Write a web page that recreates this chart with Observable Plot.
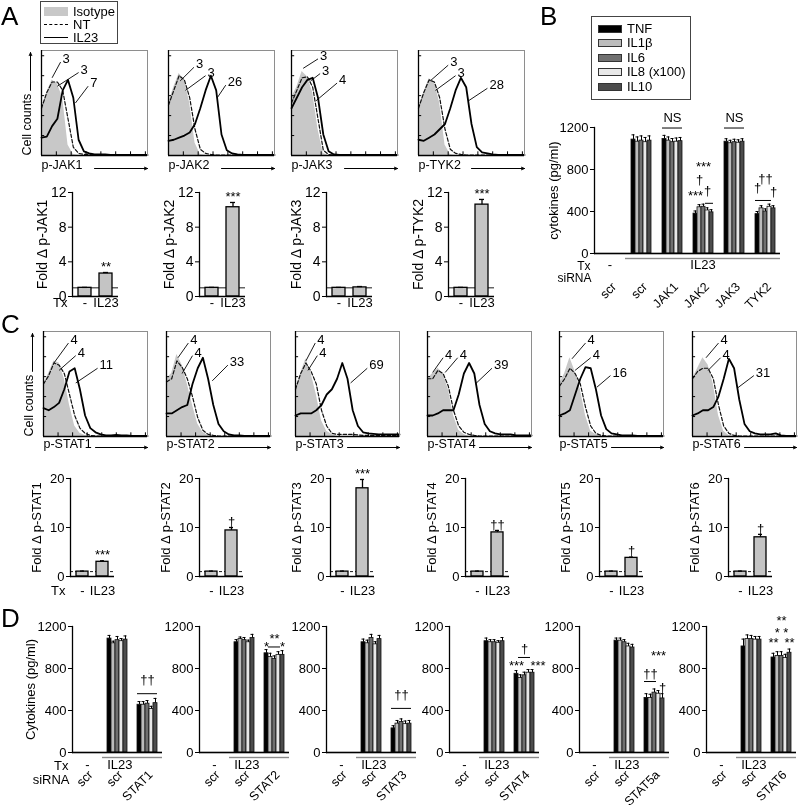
<!DOCTYPE html>
<html>
<head>
<meta charset="utf-8">
<script src="https://cdn.jsdelivr.net/npm/d3@7"></script>
<script src="https://cdn.jsdelivr.net/npm/@observablehq/plot@0.6"></script>
<style>
html,body{margin:0;padding:0;background:#fff;}
#fig{position:relative;width:800px;height:809px;overflow:hidden;font-family:"Liberation Sans",Arial,Helvetica,sans-serif;color:#000;will-change:transform;}
#fig > svg{position:absolute;}
.letter{position:absolute;font-size:26px;line-height:26px;}
.legend{position:absolute;box-sizing:border-box;border:1.5px solid #444;background:#fff;font-size:13px;}
.legend .lb{position:absolute;line-height:13px;white-space:nowrap;}
.legend .sw{position:absolute;box-sizing:border-box;}
</style>
</head>
<body>
<div id="fig"></div>
<script>
// ================= DATA =================
// histogram sampling positions (percent of the fluorescence axis)
const histX = [0,5,10,15,20,25,30,35,40,45,50,55,60,65,70,75,80,85,90,95,100];

// Panel A histograms (fraction of max cell count)
const isoJAK1  = [.45,.60,.72,.68,.55,.10,.01,0,0,0,0,0,0,0,0,0,0,0,0,0,0];
const ntJAK1   = [.45,.60,.70,.70,.62,.35,.08,.02,.01,.01,.005,.005,.005,.005,.005,.005,.005,.005,.005,.005,.005];
const il23JAK1 = [.17,.18,.28,.35,.62,.72,.55,.15,.04,.02,.01,.01,.01,.005,.005,.005,.005,.005,.005,.005,.005];
const isoJAK2  = [.50,.65,.78,.72,.50,.12,.01,0,0,0,0,0,0,0,0,0,0,0,0,0,0];
const ntJAK2   = [.48,.62,.76,.72,.55,.25,.06,.02,.01,.005,.005,.005,.005,.005,.005,.005,.005,.005,.005,.005,.005];
const il23JAK2 = [.14,.15,.17,.19,.22,.30,.45,.62,.76,.62,.20,.05,.02,.01,.005,.005,.005,.005,.005,.005,.005];
const isoJAK3  = [.55,.65,.80,.75,.60,.25,.02,0,0,0,0,0,0,0,0,0,0,0,0,0,0];
const ntJAK3   = [.50,.62,.74,.75,.65,.35,.05,.01,.005,.005,.005,.005,.005,.005,.005,.005,.005,.005,.005,.005,.005];
const il23JAK3 = [.45,.55,.65,.72,.74,.55,.20,.04,.01,.005,.005,.005,.005,.005,.005,.005,.005,.005,.005,.005,.005];
const isoTYK2  = [.45,.60,.73,.70,.50,.10,.01,0,0,0,0,0,0,0,0,0,0,0,0,0,0];
const ntTYK2   = [.45,.60,.72,.70,.55,.25,.06,.02,.01,.005,.005,.005,.005,.005,.005,.005,.005,.005,.005,.005,.005];
const il23TYK2 = [.15,.14,.17,.20,.25,.30,.45,.62,.74,.65,.30,.08,.03,.02,.01,.005,.005,.005,.005,.005,.005];

// Panel C histograms
const isoSTAT1  = [.50,.60,.72,.70,.55,.30,.10,.03,.01,0,0,0,0,0,0,0,0,0,0,0,0];
const ntSTAT1   = [.50,.58,.70,.68,.60,.40,.20,.08,.03,.01,.005,.005,.005,.005,.005,.005,.005,.005,.005,.005,.005];
const il23STAT1 = [.27,.25,.28,.32,.45,.62,.65,.45,.20,.08,.04,.02,.01,.01,.015,.01,.01,.005,.005,.005,.005];
const isoSTAT2  = [.55,.60,.78,.68,.50,.30,.12,.04,.01,0,0,0,0,0,0,0,0,0,0,0,0];
const ntSTAT2   = [.52,.55,.72,.66,.55,.38,.18,.06,.02,.01,.005,.005,.005,.005,.005,.005,.005,.005,.005,.005,.005];
const il23STAT2 = [.22,.22,.25,.28,.30,.50,.65,.75,.55,.30,.12,.05,.02,.01,.01,.005,.005,.005,.005,.005,.005];
const isoSTAT3  = [.45,.60,.74,.60,.40,.15,.05,.02,0,0,0,0,0,0,0,0,0,0,0,0,0];
const ntSTAT3   = [.45,.60,.70,.62,.50,.25,.10,.03,.02,.02,.02,.02,.015,.01,.01,.01,.01,.01,.01,.01,.01];
const il23STAT3 = [.20,.22,.22,.22,.25,.30,.40,.45,.55,.70,.55,.25,.10,.04,.03,.025,.02,.02,.02,.02,.02];
const isoSTAT4  = [.55,.60,.65,.60,.45,.20,.06,.02,0,0,0,0,0,0,0,0,0,0,0,0,0];
const ntSTAT4   = [.55,.55,.63,.60,.48,.25,.10,.04,.02,.01,.005,.005,.005,.005,.005,.005,.005,.005,.005,.005,.005];
const il23STAT4 = [.20,.20,.22,.25,.25,.25,.40,.60,.70,.60,.30,.12,.05,.03,.02,.02,.02,.01,.01,.01,.01];
const isoSTAT5  = [.50,.60,.75,.62,.45,.20,.05,.02,0,0,0,0,0,0,0,0,0,0,0,0,0];
const ntSTAT5   = [.48,.55,.65,.60,.50,.28,.10,.03,.01,.005,.005,.005,.005,.005,.005,.005,.005,.005,.005,.005,.005];
const il23STAT5 = [.20,.22,.25,.40,.55,.66,.65,.45,.20,.07,.03,.02,.01,.01,.01,.005,.005,.005,.005,.005,.005];
const isoSTAT6  = [.55,.65,.75,.68,.50,.20,.05,.01,0,0,0,0,0,0,0,0,0,0,0,0,0];
const ntSTAT6   = [.55,.62,.65,.65,.55,.30,.10,.03,.01,.005,.005,.005,.005,.005,.005,.005,.005,.005,.005,.005,.005];
const il23STAT6 = [.20,.22,.25,.25,.28,.38,.55,.74,.65,.35,.12,.05,.03,.02,.02,.02,.03,.01,.005,.005,.005];

// MFI call-outs: label, curve point (x1,y1) and label point (x2,y2)
const callJAK1 = [{t:"3",x1:10,y1:.74,x2:18,y2:.89},{t:"3",x1:15,y1:.66,x2:35,y2:.79},{t:"7",x1:32,y1:.50,x2:44,y2:.66}];
const callJAK2 = [{t:"3",x1:11,y1:.71,x2:24,y2:.84},{t:"3",x1:16,y1:.62,x2:35,y2:.76},{t:"26",x1:46,y1:.55,x2:54,y2:.67}];
const callJAK3 = [{t:"3",x1:11,y1:.83,x2:25,y2:.92},{t:"3",x1:18,y1:.71,x2:27,y2:.78},{t:"4",x1:23,y1:.52,x2:43,y2:.69}];
const callTYK2 = [{t:"3",x1:11,y1:.71,x2:28,y2:.86},{t:"3",x1:16,y1:.62,x2:35,y2:.76},{t:"28",x1:47,y1:.52,x2:65,y2:.64}];
const callSTAT1 = [{t:"4",x1:10,y1:.70,x2:24,y2:.89},{t:"4",x1:15,y1:.63,x2:31,y2:.77},{t:"11",x1:31,y1:.51,x2:52,y2:.65}];
const callSTAT2 = [{t:"4",x1:11,y1:.75,x2:21,y2:.89},{t:"4",x1:15,y1:.60,x2:25,y2:.77},{t:"33",x1:44,y1:.53,x2:59,y2:.68}];
const callSTAT3 = [{t:"4",x1:10,y1:.72,x2:19,y2:.89},{t:"4",x1:12,y1:.63,x2:21,y2:.77},{t:"69",x1:53,y1:.51,x2:69,y2:.65}];
const callSTAT4 = [{t:"4",x1:5,y1:.61,x2:15,y2:.75},{t:"4",x1:17,y1:.61,x2:29,y2:.75},{t:"39",x1:46,y1:.50,x2:62,y2:.65}];
const callSTAT5 = [{t:"4",x1:12,y1:.74,x2:25,y2:.89},{t:"4",x1:15,y1:.63,x2:30,y2:.75},{t:"16",x1:36,y1:.47,x2:49,y2:.58}];
const callSTAT6 = [{t:"4",x1:13,y1:.75,x2:25,y2:.89},{t:"4",x1:15,y1:.63,x2:27,y2:.75},{t:"31",x1:43,y1:.46,x2:59,y2:.58}];

const histYTicks = [0.19,0.38,0.57,0.76,0.95];
const histXTicks = [0,14,28,42,56,70,84,98];

const histLabelsA = ["p-JAK1","p-JAK2","p-JAK3","p-TYK2"];
const histLabelsC = ["p-STAT1","p-STAT2","p-STAT3","p-STAT4","p-STAT5","p-STAT6"];

// fold-change bar charts
const foldCats = ["-","IL23"];
const foldALabels = ["Fold Δ p-JAK1","Fold Δ p-JAK2","Fold Δ p-JAK3","Fold Δ p-TYK2"];
const foldAVals  = [[1,2.65],[1,10.3],[1,1.05],[1,10.6]];
const foldAErrs  = [[0.05,0.12],[0.05,0.55],[0.05,0.1],[0.05,0.6]];
const foldAStars = ["**","***","","***"];
const foldATicks = [0,4,8,12];
const foldCLabels = ["Fold Δ p-STAT1","Fold Δ p-STAT2","Fold Δ p-STAT3","Fold Δ p-STAT4","Fold Δ p-STAT5","Fold Δ p-STAT6"];
const foldCVals  = [[1,3.0],[1,9.4],[1,18.0],[1,9.0],[1,3.8],[1,8.0]];
const foldCErrs  = [[0.1,0.2],[0.1,0.6],[0.1,1.8],[0.1,0.4],[0.1,0.15],[0.1,0.6]];
const foldCStars = ["***","†","***","††","†","†"];
const foldCTicks = [0,10,20];

// cytokines
const cytokines = ["TNF","IL1β","IL6","IL8 (x100)","IL10"];
const cytoColors = ["#000000","#bcbcbc","#707070","#e8e8e8","#4c4c4c"];
const cytoTicks = [0,400,800,1200];

// Panel B (pg/ml), groups: scr(no Tx), scr, JAK1, JAK2, JAK3, TYK2 (IL23)
const bGroups = ["scr-","scr","JAK1","JAK2","JAK3","TYK2"];
const bTNF  = [null,1085,1090,380,1065,375];
const bIL1b = [null,1065,1075,440,1050,430];
const bIL6  = [null,1075,1060,445,1060,400];
const bIL8  = [null,1060,1065,410,1055,445];
const bIL10 = [null,1075,1070,392,1065,430];
const bErr  = [null,45,35,25,28,25];
const bAnn = [
  {g:"JAK1",c:"IL6",y:1295,t:"NS"},
  {g:"JAK3",c:"IL6",y:1295,t:"NS"},
  {g:"JAK2",c:"IL6",y:830,t:"***"},
  {g:"JAK2",c:"IL1β",y:700,t:"†"},
  {g:"JAK2",c:"TNF",y:545,t:"***"},
  {g:"JAK2",c:"IL8 (x100)",y:600,t:"†"},
  {g:"TYK2",c:"TNF",y:625,t:"†"},
  {g:"TYK2",c:"IL6",y:715,t:"††"},
  {g:"TYK2",c:"IL10",y:585,t:"†"}
];
const bLines = [
  {g:"JAK1",c1:"TNF",c2:"IL10",y:1195},
  {g:"JAK3",c1:"TNF",c2:"IL10",y:1195},
  {g:"JAK2",c1:"IL8 (x100)",c2:"IL10",y:478},
  {g:"TYK2",c1:"TNF",c2:"IL1β",y:505},
  {g:"TYK2",c1:"IL6",c2:"IL8 (x100)",y:505}
];

// Panel D (pg/ml) per STAT knock-down: [TNF, IL1β, IL6, IL8, IL10]
const dTargets = ["STAT1","STAT2","STAT3","STAT4","STAT5a","STAT6"];
const dScr    = [[1085,1040,1070,1060,1075],[1050,1080,1070,1050,1090],[1050,1040,1090,1030,1080],
                 [1060,1050,1050,1045,1060],[1065,1065,1050,1010,1000],[1010,1080,1080,1075,1075]];
const dScrErr = [[30,20,35,25,35],[25,20,25,20,35],[30,30,35,25,35],[30,25,25,20,35],[25,25,25,30,30],[70,40,35,30,30]];
const dKd     = [[455,455,465,415,470],[945,910,890,930,930],[230,275,290,270,275],
                 [750,710,735,760,760],[520,520,570,560,515],[905,920,920,900,950]];
const dKdErr  = [[30,30,30,25,45],[35,35,30,30,40],[25,30,30,30,30],[30,30,30,30,30],[40,35,35,30,45],[40,40,40,35,35]];
const dAnn = [
  [{c:"IL6",y:690,t:"††"}],
  [{c:"TNF",y:1010,t:"*"},{c:"IL6",y:1085,t:"**"},{c:"IL10",y:1010,t:"*"}],
  [{c:"IL6",y:545,t:"††"}],
  [{c:"TNF",y:830,t:"***"},{c:"IL6",y:990,t:"†"},{c:"IL10",y:830,t:"***",a:"start"}],
  [{c:"IL8 (x100)",y:925,t:"***"},{c:"IL1β",y:752,t:"††"},{c:"IL10",y:620,t:"†"}],
  [{c:"IL6",y:1255,t:"**"},{c:"IL6",y:1140,t:"* *"},{c:"TNF",y:1045,t:"**"},{c:"IL10",y:1045,t:"**"}]
];
const dLines = [
  [{c1:"TNF",c2:"IL10",y:560}],
  [{c1:"IL1β",c2:"IL8 (x100)",y:1005}],
  [{c1:"TNF",c2:"IL10",y:420}],
  [{c1:"IL1β",c2:"IL8 (x100)",y:905}],
  [{c1:"TNF",c2:"IL6",y:676}],
  []
];
const legendALabels = ["Isotype","NT","IL23"];
const legendBLabels = ["TNF","IL1β","IL6","IL8 (x100)","IL10"];

// ================= DRAWING =================
const fig = document.getElementById("fig");
const FONT = '"Liberation Sans", Arial, Helvetica, sans-serif';
const baseStyle = {overflow:"visible", background:"transparent", fontFamily:FONT, fontSize:"12.5px"};

function place(svg, left, top){
  svg.style.position = "absolute";
  svg.style.left = left + "px";
  svg.style.top = top + "px";
  fig.appendChild(svg);
}

function drawHist(spec, left, top, w, h, labelDy, showY){
  const mL = 22, mR = 6, mT = 6, mB = 22;
  const pts = arr => histX.map((x,k) => ({x, y: arr[k]}));
  const svg = Plot.plot({
    width: w+mL+mR, height: h+mT+mB,
    marginLeft: mL, marginRight: mR, marginTop: mT, marginBottom: mB,
    style: baseStyle,
    x: {domain:[0,100], axis:null},
    y: {domain:[0,1], axis:null},
    marks: [
      Plot.areaY(pts(spec.iso), {x:"x", y:"y", fill:"#c8c8c8"}),
      Plot.lineY(pts(spec.nt), {x:"x", y:"y", stroke:"#111", strokeWidth:1.2, strokeDasharray:"3.5,2"}),
      Plot.lineY(pts(spec.il23), {x:"x", y:"y", stroke:"#000", strokeWidth:1.8}),
      Plot.frame({stroke:"#8e8e8e", strokeWidth:1}),
      Plot.ruleX([0], {stroke:"#000", strokeWidth:1.3}),
      Plot.ruleY([0], {stroke:"#000", strokeWidth:1.3}),
      Plot.ruleY(histYTicks, {x1:0, x2:3, strokeWidth:1}),
      Plot.ruleX(histXTicks, {y1:0, y2:0.035, strokeWidth:1}),
      Plot.link(spec.calls, {x1:"x1", y1:"y1", x2:"x2", y2:"y2", stroke:"#000", strokeWidth:0.9}),
      Plot.text(spec.calls, {x:"x2", y:"y2", text:"t", textAnchor:"start", dx:2, dy:-3, fontSize:13}),
      Plot.text([spec.label], {text:d=>d, frameAnchor:"bottom-left", textAnchor:"start", dy:labelDy, fontSize:12.5}),
      Plot.arrow([spec.label], {x1:50, x2:100, y1:0, y2:0, dy:labelDy, stroke:"#000", strokeWidth:1, headLength:5, headAngle:45}),
      showY ? Plot.text(["Cell counts"], {text:d=>d, frameAnchor:"bottom-left", rotate:-90, textAnchor:"start", dx:-11, fontSize:12.5}) : null,
      showY ? Plot.arrow(["Cell counts"], {x1:0, x2:0, y1:0.62, y2:0.98, dx:-11, stroke:"#000", strokeWidth:1, headLength:5, headAngle:45}) : null
    ].filter(Boolean)
  });
  place(svg, left-mL, top-mT);
}

function drawFold(spec, left, top, w, h, o){
  const mL = 50, mR = 8, mT = 20, mB = 26;
  const rows = foldCats.map((c,k) => ({c, v:spec.vals[k], e:spec.errs[k], s: k === 1 ? spec.star : ""}));
  const svg = Plot.plot({
    width: w+mL+mR, height: h+mT+mB,
    marginLeft: mL, marginRight: mR, marginTop: mT, marginBottom: mB,
    style: baseStyle,
    x: {domain: foldCats, paddingInner: 0.4, paddingOuter: 0.27},
    y: {domain: [0, o.max]},
    marks: [
      Plot.ruleY([1], {stroke:"#000", strokeWidth:0.9, strokeDasharray:o.dash}),
      Plot.barY(rows, {x:"c", y:"v", fill:"#c4c4c4", stroke:"#000", strokeWidth:1.3}),
      Plot.ruleX(rows, {x:"c", y1:"v", y2:d=>d.v+d.e, stroke:"#000", strokeWidth:1.3}),
      Plot.tickY(rows, {x:"c", y:d=>d.v+d.e, insetLeft:4, insetRight:4, stroke:"#000", strokeWidth:1.3}),
      Plot.text(rows, {x:"c", y:d=>d.v+d.e, text:"s", dy:-6, fontSize:13, fill:"#000"}),
      Plot.axisY({ticks:o.ticks, tickSize:4, tickPadding:2, label:spec.ylabel, labelAnchor:"center", labelArrow:"none", labelOffset:o.labelOffset, fontSize:o.labelSize}),
      Plot.frame({anchor:"left", stroke:"#000", strokeWidth:1.3}),
      Plot.ruleY([0], {stroke:"#000", strokeWidth:1.6}),
      Plot.axisX({tickSize:0, tickPadding:o.tickPad, label:null, fontSize:13}),
      spec.tx ? Plot.text(["Tx"], {text:d=>d, frameAnchor:"bottom-left", textAnchor:"end", dx:-5, dy:o.txDy, fontSize:13}) : null
    ].filter(Boolean)
  });
  place(svg, left-mL, top-mT);
}

function drawGroups(spec, left, top, w, h, o){
  const mL = 62, mR = 22, mT = 40, mB = 60;
  const lab = g => g === "scr-" ? "scr" : g;
  const ann = spec.ann.filter(d => d.a !== "start");
  const annS = spec.ann.filter(d => d.a === "start");
  const marks = [
    Plot.barY(spec.rows, {fx:"g", x:"c", y:"v", fill:"c", stroke:"#111", strokeWidth:0.8}),
    Plot.ruleX(spec.rows, {fx:"g", x:"c", y1:"v", y2:d=>d.v+d.e, stroke:"#000", strokeWidth:1}),
    Plot.tickY(spec.rows, {fx:"g", x:"c", y:d=>d.v+d.e, insetLeft:0.5, insetRight:0.5, stroke:"#000", strokeWidth:1}),
    Plot.ruleY([0], {stroke:"#000", strokeWidth:1.6}),
    Plot.frame({anchor:"left", facetAnchor:"left", stroke:"#000", strokeWidth:1.3}),
    Plot.axisY({ticks:cytoTicks, tickFormat:d3.format("d"), tickSize:4, tickPadding:2, label:spec.ylabel, labelAnchor:"center", labelArrow:"none", labelOffset:o.labelOffset, fontSize:13}),
    Plot.ruleY(spec.groups.slice(1), {fx:d=>d, y:()=>0, dy:5, stroke:"#8a8a8a", strokeWidth:1.4}),
    Plot.text([spec.groups[0]], {fx:d=>d, text:()=>"-", frameAnchor:"bottom", dy:o.txDy, fontSize:13}),
    Plot.text([o.il23At], {fx:d=>d, text:()=>"IL23", frameAnchor:o.il23Anchor, dy:o.txDy, fontSize:13}),
    Plot.text(spec.groups, {fx:d=>d, text:lab, frameAnchor:"bottom", rotate:-45, textAnchor:"end", dx:o.catDx, dy:o.catDy, fontSize:12.5}),
    Plot.ruleY(spec.lines, {fx:"g", x1:"c1", x2:"c2", y:"y", stroke:"#000", strokeWidth:1}),
    Plot.text(ann, {fx:"g", x:"c", y:"y", text:"t", fontSize:13, fill:"#000"}),
    Plot.text(annS, {fx:"g", x:"c", y:"y", text:"t", textAnchor:"start", dx:-2, fontSize:13, fill:"#000"})
  ];
  if (spec.showTx) {
    marks.push(Plot.text([spec.groups[0]], {fx:d=>d, text:()=>"Tx", frameAnchor:"bottom-left", textAnchor:"end", dx:-4, dy:o.txDy + 1, fontSize:o.txSize}));
    marks.push(Plot.text([spec.groups[0]], {fx:d=>d, text:()=>"siRNA", frameAnchor:"bottom-left", textAnchor:"end", dx:-3, dy:o.siDy, fontSize:o.txSize}));
  }
  const svg = Plot.plot({
    width: w+mL+mR, height: h+mT+mB,
    marginLeft: mL, marginRight: mR, marginTop: mT, marginBottom: mB,
    style: baseStyle,
    fx: {domain: spec.groups, paddingInner:0, paddingOuter:0, axis:null},
    x: {domain: cytokines, paddingInner:0, paddingOuter:o.po, axis:null},
    y: {domain: [0,1200]},
    color: {domain: cytokines, range: cytoColors},
    marks
  });
  place(svg, left-mL, top-mT);
}

// ---------- panel letters ----------
[["A",1,3],["B",540,3],["C",1,311],["D",1,605]].forEach(([t,x,y]) => {
  const d = document.createElement("div");
  d.className = "letter"; d.textContent = t;
  d.style.left = x+"px"; d.style.top = y+"px";
  fig.appendChild(d);
});

// ---------- legend A ----------
(function(){
  const box = document.createElement("div");
  box.className = "legend";
  Object.assign(box.style, {left:"40px", top:"1px", width:"78px", height:"43px"});
  const rowsY = [10,23,36];
  legendALabels.forEach((t,k) => {
    const sw = document.createElement("div"); sw.className = "sw";
    if (k === 0) Object.assign(sw.style, {left:"3px", top:(rowsY[k]-5)+"px", width:"24px", height:"9px", background:"#c8c8c8"});
    else Object.assign(sw.style, {left:"3px", top:(rowsY[k]-1)+"px", width:"24px", height:"0px", borderTop: k===1 ? "1.6px dashed #000" : "1.8px solid #000"});
    const lb = document.createElement("div"); lb.className = "lb"; lb.textContent = t;
    Object.assign(lb.style, {left:"32px", top:(rowsY[k]-7)+"px"});
    box.appendChild(sw); box.appendChild(lb);
  });
  fig.appendChild(box);
})();

// ---------- legend B ----------
(function(){
  const box = document.createElement("div");
  box.className = "legend";
  Object.assign(box.style, {left:"591px", top:"16px", width:"100px", height:"84px"});
  const rowsY = [12,26,41,55,70];
  legendBLabels.forEach((t,k) => {
    const sw = document.createElement("div"); sw.className = "sw";
    Object.assign(sw.style, {left:"6px", top:(rowsY[k]-4)+"px", width:"24px", height:"8px", background:cytoColors[k], border:"1px solid #333"});
    const lb = document.createElement("div"); lb.className = "lb"; lb.textContent = t;
    Object.assign(lb.style, {left:"35px", top:(rowsY[k]-7)+"px"});
    box.appendChild(sw); box.appendChild(lb);
  });
  fig.appendChild(box);
})();

// ---------- panel A ----------
const histA = [
  {label:histLabelsA[0], iso:isoJAK1, nt:ntJAK1, il23:il23JAK1, calls:callJAK1},
  {label:histLabelsA[1], iso:isoJAK2, nt:ntJAK2, il23:il23JAK2, calls:callJAK2},
  {label:histLabelsA[2], iso:isoJAK3, nt:ntJAK3, il23:il23JAK3, calls:callJAK3},
  {label:histLabelsA[3], iso:isoTYK2, nt:ntTYK2, il23:il23TYK2, calls:callTYK2}
];
const histALeft = [41,168,291,418];
histA.forEach((s,k) => drawHist(s, histALeft[k], 50, 106, 105, 13, k === 0));

const foldALeft = [72,199,326,448];
foldALabels.forEach((lbl,k) => drawFold(
  {ylabel:lbl, vals:foldAVals[k], errs:foldAErrs[k], star:foldAStars[k], tx:k===0},
  foldALeft[k], 192, 46, 104,
  {max:12, ticks:foldATicks, dash:null, labelOffset:35, labelSize:14, tickPad:1, txDy:10}
));

// ---------- panel B ----------
(function(){
  const vals = [bTNF,bIL1b,bIL6,bIL8,bIL10];
  const rows = [];
  bGroups.forEach((g,gi) => cytokines.forEach((c,ci) => {
    if (vals[ci][gi] != null) rows.push({g, c, v:vals[ci][gi], e:bErr[gi]});
  }));
  drawGroups({groups:bGroups, rows, ann:bAnn, lines:bLines, ylabel:"cytokines (pg/ml)", showTx:true},
    592, 127, 190, 126,
    {po:0.8, labelOffset:46, il23At:"JAK2", il23Anchor:"bottom", catDx:7, catDy:34, txDy:15, siDy:28, txSize:12});
})();

// ---------- panel C ----------
const histC = [
  {label:histLabelsC[0], iso:isoSTAT1, nt:ntSTAT1, il23:il23STAT1, calls:callSTAT1},
  {label:histLabelsC[1], iso:isoSTAT2, nt:ntSTAT2, il23:il23STAT2, calls:callSTAT2},
  {label:histLabelsC[2], iso:isoSTAT3, nt:ntSTAT3, il23:il23STAT3, calls:callSTAT3},
  {label:histLabelsC[3], iso:isoSTAT4, nt:ntSTAT4, il23:il23STAT4, calls:callSTAT4},
  {label:histLabelsC[4], iso:isoSTAT5, nt:ntSTAT5, il23:il23STAT5, calls:callSTAT5},
  {label:histLabelsC[5], iso:isoSTAT6, nt:ntSTAT6, il23:il23STAT6, calls:callSTAT6}
];
const histCLeft = [43,166,295,427,559,692];
histC.forEach((s,k) => drawHist(s, histCLeft[k], 331, 104, 105, 11, k === 0));

const foldCLeft = [70,199,330,465,599,728];
foldCLabels.forEach((lbl,k) => drawFold(
  {ylabel:lbl, vals:foldCVals[k], errs:foldCErrs[k], star:foldCStars[k], tx:k===0},
  foldCLeft[k], 478, 44, 98,
  {max:20, ticks:foldCTicks, dash:"3,2", labelOffset:39, labelSize:13, tickPad:9, txDy:18}
));

// ---------- panel D ----------
const dLeft = [71,198,325,448,578,705];
dTargets.forEach((tgt,k) => {
  const groups = ["scr-","scr",tgt];
  const rows = [];
  cytokines.forEach((c,ci) => rows.push({g:"scr", c, v:dScr[k][ci], e:dScrErr[k][ci]}));
  cytokines.forEach((c,ci) => rows.push({g:tgt, c, v:dKd[k][ci], e:dKdErr[k][ci]}));
  const ann = dAnn[k].map(d => ({...d, g:tgt}));
  const lines = dLines[k].map(d => ({...d, g:tgt}));
  drawGroups({groups, rows, ann, lines, ylabel: k===0 ? "Cytokines (pg/ml)" : null, showTx:k===0},
    dLeft[k], 626, 91.5, 126,
    {po:0.97, labelOffset:47, il23At:"scr", il23Anchor:"bottom-right", catDx:6, catDy:23, txDy:16, siDy:31, txSize:13});
});
</script>
</body>
</html>
